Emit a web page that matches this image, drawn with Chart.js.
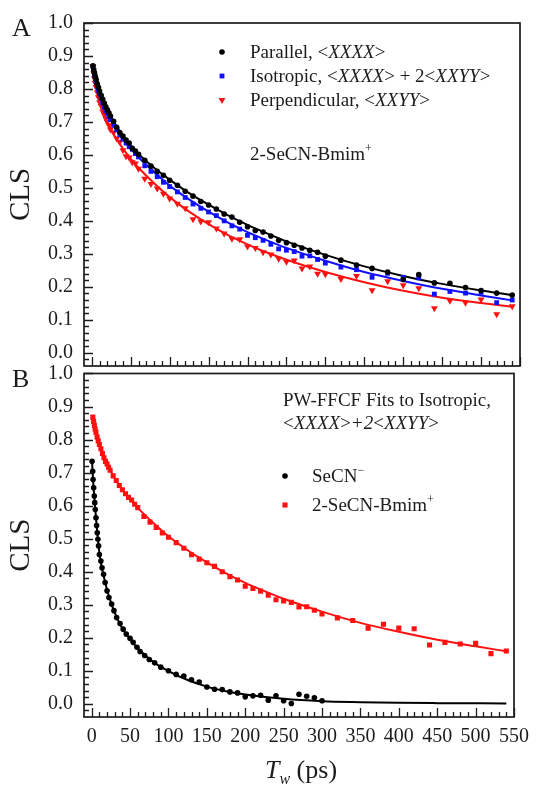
<!DOCTYPE html>
<html>
<head>
<meta charset="utf-8">
<title>CLS decays</title>
<script src="https://cdn.jsdelivr.net/npm/chart.js@4.4.1/dist/chart.umd.min.js"></script>
<style>
  html, body { margin: 0; padding: 0; background: #fff; }
  #wrap { position: relative; width: 537px; height: 785px; }
  #wrap canvas { position: absolute; left: 0; top: 0; }
</style>
</head>
<body>
<div id="wrap">
  <canvas id="panelA" width="537" height="785"></canvas>
  <canvas id="panelB" width="537" height="785"></canvas>
</div>
<script>
// waiting times (ps) for the 2-SeCN-Bmim+ measurements
const twBmim = [1.5, 2.5, 3.5, 4.5, 5.5, 7, 8.5, 10, 12, 14, 16, 18, 20, 22, 24, 28, 32, 36, 40, 44, 48, 52, 56, 60, 68, 76, 84, 92, 100,
  110, 120, 130, 140, 150, 160, 170, 180, 190, 200, 210, 220, 230, 240, 250, 260, 270, 280, 290, 300,
  320, 340, 360, 380, 400, 420, 440, 460, 480, 500, 520, 540];

const parallelCLS = [0.870, 0.858, 0.848, 0.838, 0.829, 0.816, 0.805, 0.794, 0.781, 0.769, 0.757, 0.746, 0.737, 0.728, 0.718, 0.702, 0.684, 0.668, 0.657, 0.645, 0.636, 0.620, 0.612, 0.602, 0.584, 0.566, 0.550, 0.538, 0.523,
  0.508, 0.490, 0.475, 0.459, 0.448, 0.436, 0.421, 0.412, 0.396, 0.382, 0.371, 0.366, 0.354, 0.341, 0.334, 0.326, 0.318, 0.311, 0.305, 0.293,
  0.281, 0.266, 0.256, 0.245, 0.222, 0.237, 0.212, 0.211, 0.198, 0.189, 0.181, 0.175];

const isoCLS = [0.868, 0.855, 0.843, 0.832, 0.822, 0.808, 0.796, 0.785, 0.772, 0.758, 0.745, 0.734, 0.726, 0.716, 0.707, 0.690, 0.676, 0.661, 0.648, 0.636, 0.625, 0.617, 0.604, 0.594, 0.567, 0.550, 0.534, 0.517, 0.504,
  0.488, 0.471, 0.451, 0.438, 0.427, 0.416, 0.400, 0.385, 0.375, 0.356, 0.349, 0.341, 0.329, 0.315, 0.311, 0.307, 0.293, 0.294, 0.283, 0.272,
  0.260, 0.252, 0.229, 0.241, 0.229, 0.227, 0.178, 0.186, 0.181, 0.183, 0.152, 0.160];

const perpCLS = [0.868, 0.848, 0.832, 0.818, 0.806, 0.790, 0.775, 0.760, 0.748, 0.732, 0.722, 0.710, 0.700, 0.690, 0.677, 0.668, 0.650, 0.640, 0.614, 0.596, 0.592, 0.578, 0.574, 0.558, 0.528, 0.512, 0.498, 0.482, 0.468,
  0.452, 0.438, 0.405, 0.398, 0.396, 0.377, 0.362, 0.346, 0.344, 0.322, 0.318, 0.305, 0.298, 0.285, 0.276, 0.280, 0.256, 0.262, 0.240, 0.238,
  0.224, 0.233, 0.190, 0.217, 0.205, 0.196, 0.135, 0.158, 0.152, 0.162, 0.117, 0.141];

// fitted curves, sampled along Tw
const fitTw = [1.5, 5, 10, 15, 20, 30, 40, 50, 60, 80, 100, 125, 150, 175, 200, 225, 250, 300, 350, 400, 450, 500, 540];
const parallelFit = [0.870, 0.833, 0.794, 0.764, 0.738, 0.694, 0.659, 0.629, 0.603, 0.561, 0.525, 0.484, 0.449, 0.417, 0.388, 0.362, 0.338, 0.297, 0.262, 0.233, 0.209, 0.189, 0.175];
const isoFit = [0.868, 0.826, 0.785, 0.752, 0.726, 0.683, 0.648, 0.619, 0.593, 0.548, 0.507, 0.465, 0.428, 0.395, 0.366, 0.341, 0.318, 0.279, 0.245, 0.218, 0.194, 0.174, 0.159];
const perpFit = [0.868, 0.812, 0.763, 0.728, 0.700, 0.655, 0.619, 0.588, 0.561, 0.514, 0.472, 0.428, 0.390, 0.357, 0.329, 0.304, 0.282, 0.245, 0.214, 0.188, 0.167, 0.151, 0.140];

// SeCN- in the same liquid
const twSeCN = [0.5, 1.3, 1.8, 2.6, 3.4, 4, 4.7, 5.6, 6.4, 7.3, 8.1, 9, 10, 12, 13.5, 15.5, 17.5, 20, 22.5, 26, 29, 32.5, 37, 41, 45, 50, 54, 59, 63, 69, 75, 82, 90,
  100, 110, 120, 130, 140, 150, 160, 170, 180, 190, 200, 210, 220, 230, 240, 250, 260, 270, 280, 290, 300];
const secnCLS = [0.734, 0.704, 0.679, 0.654, 0.629, 0.609, 0.588, 0.563, 0.540, 0.518, 0.498, 0.478, 0.452, 0.432, 0.412, 0.392, 0.367, 0.342, 0.322, 0.302, 0.282, 0.261, 0.243, 0.226, 0.211, 0.198, 0.186, 0.171, 0.158, 0.146, 0.134, 0.124, 0.111,
  0.100, 0.089, 0.084, 0.073, 0.066, 0.051, 0.044, 0.043, 0.036, 0.033, 0.021, 0.024, 0.026, 0.011, 0.024, 0.009, 0.001, 0.029, 0.023, 0.018, 0.009];
const secnFitTw = [0.5, 2, 4, 6, 8, 10, 13, 16, 20, 25, 30, 40, 50, 60, 80, 100, 125, 150, 175, 200, 250, 300, 350, 400, 450, 540];
const secnFit = [0.735, 0.670, 0.610, 0.553, 0.500, 0.458, 0.415, 0.383, 0.345, 0.308, 0.276, 0.228, 0.196, 0.168, 0.127, 0.099, 0.072, 0.052, 0.038, 0.028, 0.015, 0.008, 0.005, 0.003, 0.002, 0.001];

const xTicks = [0, 50, 100, 150, 200, 250, 300, 350, 400, 450, 500, 550];
const yTicks = [0, 0.1, 0.2, 0.3, 0.4, 0.5, 0.6, 0.7, 0.8, 0.9, 1.0];

const SERIF = '"Liberation Serif", "Times New Roman", serif';
const INK = '#1c1c1c';
const BLUE = '#1010ff';
const RED = '#ff1010';

const pts = (xs, ys) => xs.map((x, i) => ({ x: x, y: ys[i] }));

// draws a run of text pieces; pieces can be italic, superscript or subscript
function richText(ctx, x, y, parts, size, center) {
  ctx.save();
  ctx.textBaseline = 'alphabetic';
  ctx.textAlign = 'left';
  ctx.fillStyle = INK;
  const fontOf = p => {
    let s = size;
    if (p.sup || p.sub) s = Math.round(size * 0.62);
    return (p.i ? 'italic ' : '') + s + 'px ' + SERIF;
  };
  if (center) {
    let w = 0;
    for (const p of parts) { ctx.font = fontOf(p); w += ctx.measureText(p.t).width; }
    x -= w / 2;
  }
  for (const p of parts) {
    let dy = 0;
    if (p.sup) dy = -size * 0.42;
    if (p.sub) dy = size * 0.22;
    ctx.font = fontOf(p);
    ctx.fillText(p.t, x, y + dy);
    x += ctx.measureText(p.t).width;
  }
  ctx.restore();
}

// closed frame with inward ticks on the left and bottom sides
const frameTicks = {
  id: 'frameTicks',
  afterDraw(chart) {
    const { ctx, chartArea: a, scales: { x, y } } = chart;
    ctx.save();
    ctx.strokeStyle = INK;
    ctx.lineWidth = 1.7;
    ctx.strokeRect(a.left, a.top, a.right - a.left, a.bottom - a.top);
    ctx.lineWidth = 1.3;
    ctx.beginPath();
    for (let v = -0.02; v < 1.001; v += 0.02) {
      const major = Math.abs(v * 10 - Math.round(v * 10)) < 1e-6;
      const py = Math.round(y.getPixelForValue(v)) + 0.5;
      ctx.moveTo(a.left, py);
      ctx.lineTo(a.left + (major ? 9 : 5), py);
    }
    for (let v = 0; v <= 550; v += 10) {
      const major = v % 50 === 0;
      const px = Math.round(x.getPixelForValue(v)) + 0.5;
      ctx.moveTo(px, a.bottom);
      ctx.lineTo(px, a.bottom - (major ? 9 : 5));
    }
    ctx.stroke();
    ctx.restore();
  }
};

function marker(ctx, style, color, r, rot, x, y) {
  ctx.save();
  ctx.fillStyle = color;
  ctx.strokeStyle = color;
  Chart.helpers.drawPoint(ctx, { pointStyle: style, radius: r, rotation: rot, borderWidth: 0 }, x, y);
  ctx.restore();
}

const legendA = {
  id: 'legendA',
  afterDraw(chart) {
    const ctx = chart.ctx;
    richText(ctx, 12, 35.5, [{ t: 'A' }], 26);
    marker(ctx, 'circle', '#000', 2.8, 0, 222, 52);
    marker(ctx, 'rect', BLUE, 3.4, 0, 222, 76);
    marker(ctx, 'triangle', RED, 4, 180, 222, 100);
    richText(ctx, 250, 58.3, [{ t: 'Parallel, <' }, { t: 'XXXX', i: 1 }, { t: '>' }], 19);
    richText(ctx, 250, 82.3, [{ t: 'Isotropic, <' }, { t: 'XXXX', i: 1 }, { t: '> + 2<' }, { t: 'XXYY', i: 1 }, { t: '>' }], 19);
    richText(ctx, 250, 106.3, [{ t: 'Perpendicular, <' }, { t: 'XXYY', i: 1 }, { t: '>' }], 19);
    richText(ctx, 250, 160.3, [{ t: '2-SeCN-Bmim' }, { t: '+', sup: 1 }], 19);
  }
};

const legendB = {
  id: 'legendB',
  afterDraw(chart) {
    const ctx = chart.ctx;
    richText(ctx, 12, 386.5, [{ t: 'B' }], 26);
    richText(ctx, 283, 406.3, [{ t: 'PW-FFCF Fits to Isotropic,' }], 19);
    richText(ctx, 283, 428.5, [{ t: '<' }, { t: 'XXXX', i: 1 }, { t: '>' }, { t: '+2', i: 1 }, { t: '<' }, { t: 'XXYY', i: 1 }, { t: '>' }], 19);
    marker(ctx, 'circle', '#000', 2.8, 0, 285, 476);
    marker(ctx, 'rect', RED, 3.6, 0, 285, 505);
    richText(ctx, 312, 482.3, [{ t: 'SeCN' }, { t: '\u2212', sup: 1 }], 19);
    richText(ctx, 312, 511.3, [{ t: '2-SeCN-Bmim' }, { t: '+', sup: 1 }], 19);
    richText(ctx, 301, 778, [{ t: 'T', i: 1 }, { t: 'w', i: 1, sub: 1 }, { t: ' (ps)' }], 26, true);
  }
};

function scatterSet(data, color, style, r, rot) {
  return {
    data: data, showLine: false, order: 0,
    pointStyle: style, pointRadius: r, pointRotation: rot || 0,
    pointBackgroundColor: color, pointBorderWidth: 0
  };
}

function fitSet(data, color) {
  return {
    data: data, showLine: true, order: 1,
    borderColor: color, borderWidth: 2, pointRadius: 0,
    cubicInterpolationMode: 'monotone'
  };
}

function axes(showXLabels) {
  return {
    x: {
      type: 'linear', min: -10, max: 550,
      grid: { display: false, drawTicks: false },
      border: { display: false },
      afterBuildTicks: s => { s.ticks = xTicks.map(v => ({ value: v })); },
      afterFit: s => { s.height = showXLabels ? 68 : 0; },
      ticks: {
        display: showXLabels, autoSkip: false, maxRotation: 0, padding: 8, color: INK,
        font: { family: SERIF, size: 20 }
      }
    },
    y: {
      min: -0.04, max: 1.0,
      grid: { display: false, drawTicks: false },
      border: { display: false },
      afterBuildTicks: s => { s.ticks = yTicks.map(v => ({ value: v })); },
      afterFit: s => { s.width = 84; },
      ticks: {
        padding: 11, color: INK, font: { family: SERIF, size: 20 },
        callback: v => Number(v).toFixed(1)
      },
      title: {
        display: true, text: 'CLS', color: INK,
        font: { family: SERIF, size: 29, lineHeight: 1.2 },
        padding: { top: 4, bottom: 0 }
      }
    }
  };
}

const common = {
  responsive: false,
  animation: false,
  plugins: { legend: { display: false }, tooltip: { enabled: false } }
};

new Chart(document.getElementById('panelA'), {
  type: 'scatter',
  data: {
    datasets: [
      scatterSet(pts(twBmim, parallelCLS), '#000', 'circle', 2.8),
      scatterSet(pts(twBmim, isoCLS), BLUE, 'rect', 3.4),
      scatterSet(pts(twBmim, perpCLS), RED, 'triangle', 4, 180),
      fitSet(pts(fitTw, parallelFit), '#000'),
      fitSet(pts(fitTw, isoFit), BLUE),
      fitSet(pts(fitTw, perpFit), RED)
    ]
  },
  options: Object.assign({}, common, {
    layout: { padding: { top: 21, right: 17, bottom: 419, left: 0 } },
    scales: axes(false)
  }),
  plugins: [frameTicks, legendA]
});

new Chart(document.getElementById('panelB'), {
  type: 'scatter',
  data: {
    datasets: [
      scatterSet(pts(twSeCN, secnCLS), '#000', 'circle', 2.8),
      scatterSet(pts(twBmim, isoCLS), RED, 'rect', 3.6),
      fitSet(pts(secnFitTw, secnFit), '#000'),
      fitSet(pts(fitTw, isoFit), RED)
    ]
  },
  options: Object.assign({}, common, {
    layout: { padding: { top: 373.5, right: 17, bottom: 0, left: 0 } },
    scales: axes(true)
  }),
  plugins: [frameTicks, legendB]
});
</script>
</body>
</html>
